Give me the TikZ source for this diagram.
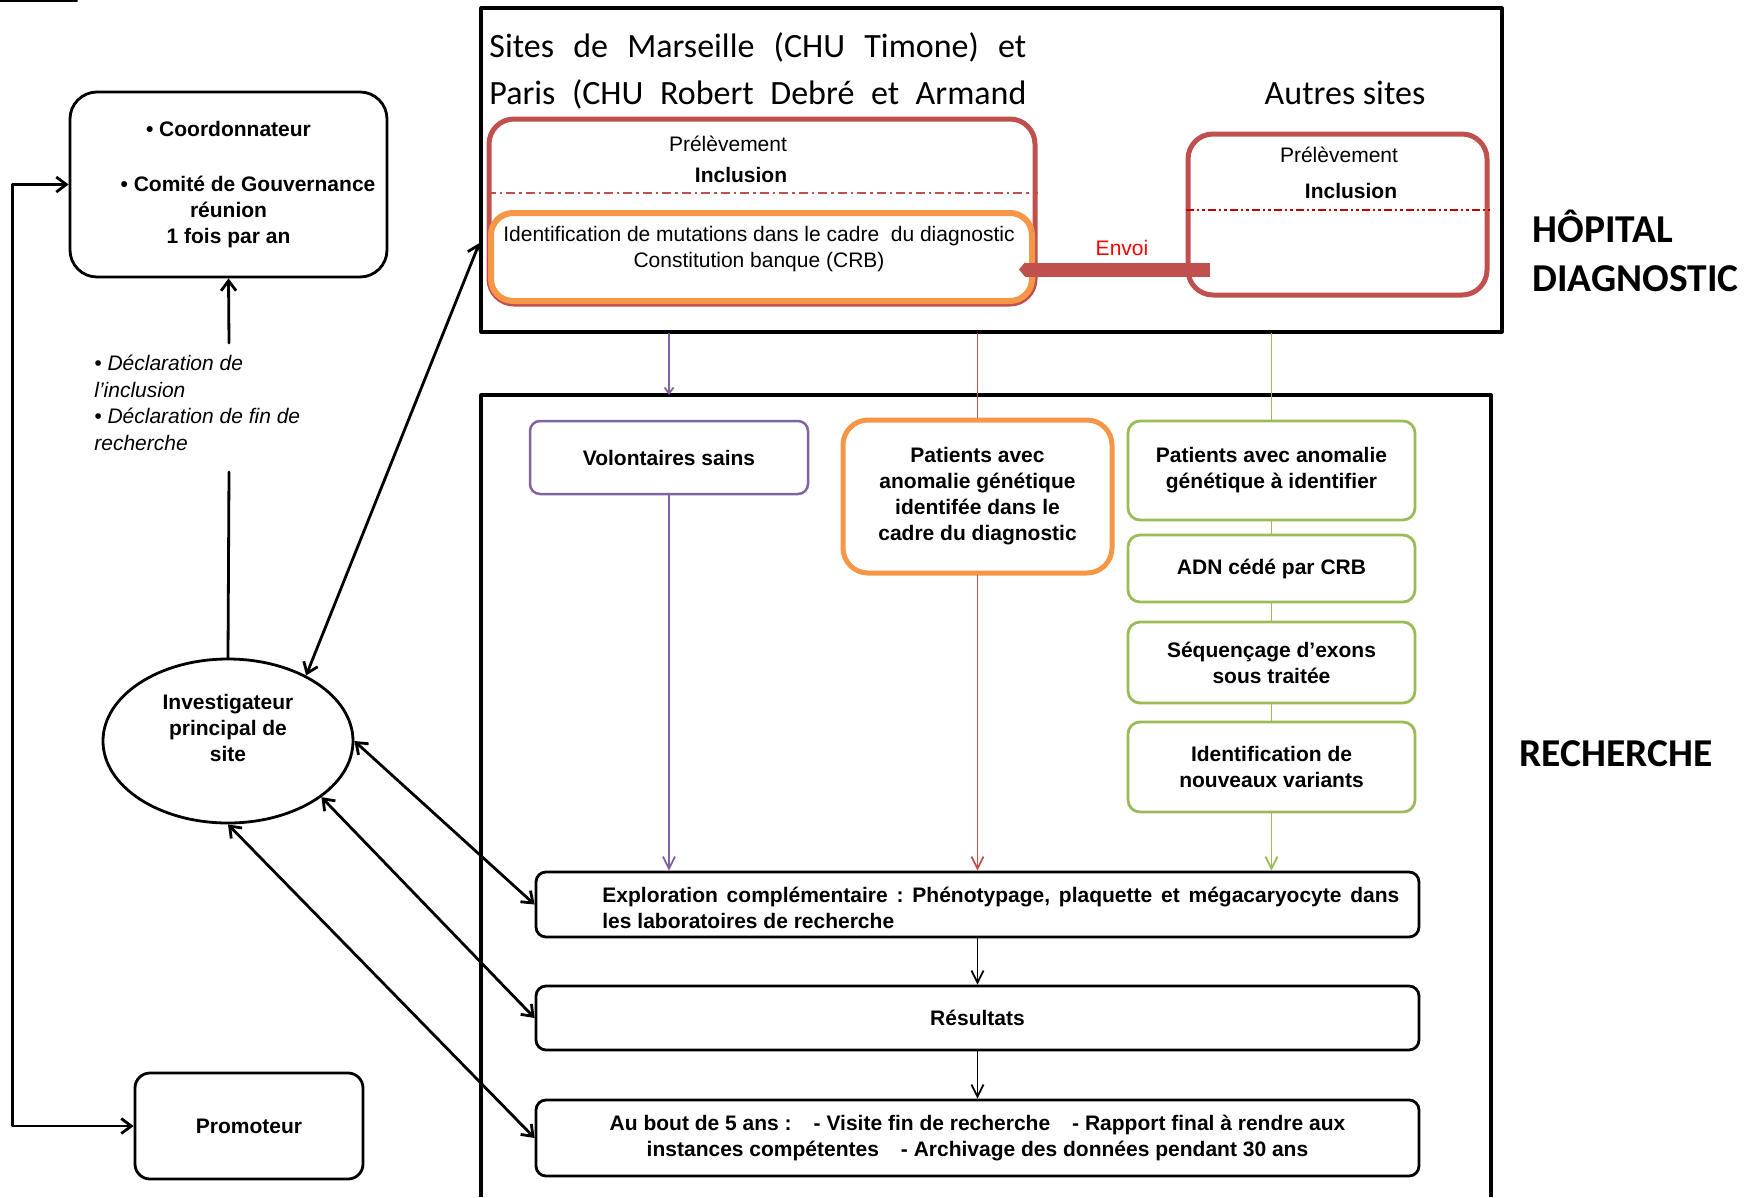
\documentclass[tikz,border=0pt]{standalone}
\usepackage{fontspec}
\setmainfont{Liberation Sans}
\newfontfamily\calibri{Carlito}
\usetikzlibrary{arrows.meta,shapes.geometric}
\frenchspacing

\definecolor{rougeB}{HTML}{C0504D}
\definecolor{rougeF}{HTML}{C00000}
\definecolor{orangeB}{HTML}{F79646}
\definecolor{violetB}{HTML}{8064A2}
\definecolor{vertB}{HTML}{9BBB59}

\begin{document}
\begin{tikzpicture}[x=1pt, y=-1pt, line width=2.8pt, line cap=round, line join=round,
  txt/.style={inner sep=0pt, align=center, font=\fontsize{21}{26}\selectfont},
  gras/.style={inner sep=0pt, align=center, font=\bfseries\fontsize{21}{26}\selectfont},
  boite/.style={draw, gras, rounded corners=10pt},
  vert/.style={boite, draw=vertB, rounded corners=12pt, minimum width=287pt},
  calib/.style={inner sep=0pt, font=\calibri\fontsize{34}{47}\selectfont},
  titre/.style={inner sep=0pt, anchor=west, font=\calibri\bfseries\fontsize{39.5}{48}\selectfont},
  fleche/.style={-{Straight Barb[length=10pt,width=15pt]}},
  dfleche/.style={{Straight Barb[length=10pt,width=15pt]}-{Straight Barb[length=10pt,width=15pt]}},
  fine/.style={line width=1.8pt, -{Straight Barb[length=12pt,width=12pt]}}]

  %% ════ colonne de gauche ════
  \draw[line width=2pt] (0,1) -- (77,1);
  \node[boite, rounded corners=27pt, minimum width=317pt, minimum height=185pt] (coord) at (228.5,184.5)
    {• Coordonnateur\\[29pt]\hspace*{39pt}• Comité de Gouvernance\\réunion\\1 fois par an};
  \node[txt, align=left, anchor=west, font=\itshape\fontsize{21}{26.7}\selectfont] (decl) at (93,403)
    {• Déclaration de\\l’inclusion\\• Déclaration de fin de\\recherche};
  \node[draw, ellipse, gras, minimum width=250pt, minimum height=164pt] (inv) at (228,741)
    {Investigateur\\principal de\\site\\\mbox{}};
  \node[boite, rounded corners=15pt, minimum width=228pt, minimum height=106pt] (promo) at (249,1126) {Promoteur};

  \coordinate (declA) at (229,343);   % la ligne s'arrête au texte
  \coordinate (declB) at (229,472);
  \draw[fleche] (declA) -- (coord.south);
  \draw (declB) -- (inv.north);
  \draw[dfleche] (coord.west) -- ++(-56,0) |- (promo.west);

  %% ════ HÔPITAL DIAGNOSTIC ════
  \node[draw, line width=3.2pt, inner sep=0pt, minimum width=1021pt, minimum height=324pt] (hop) at (991.5,170) {};
  \node[calib, anchor=west, align=left] (sites) at (488,70.5)
    {\makebox[537pt][s]{Sites de Marseille (CHU Timone) et}\\\makebox[537pt][s]{Paris (CHU Robert Debré et Armand}};
  \node[calib] (autres) at (1345,93) {Autres sites};

  \node[draw=rougeB, line width=5pt, rounded corners=25pt, minimum width=546pt, minimum height=185pt] (mars) at (762,211.5) {};
  \node[txt] (mars-p) at (728,144) {Prélèvement};
  \node[gras] (mars-i) at (741,175) {Inclusion};
  \draw[rougeB, line width=2pt, line cap=butt, dash pattern=on 9pt off 4pt on 2.5pt off 4pt]
    (mars.west |- 0,193) -- (mars.east |- 0,193);
  \node[draw=orangeB, line width=6pt, rounded corners=22pt, minimum width=541pt, minimum height=88pt] (ident) at (761.5,257) {};
  \node[txt] (ident-t) at (759,249) {Identification de mutations dans le cadre\ \ du diagnostic\\Constitution banque (CRB)};

  \node[draw=rougeB, line width=5pt, rounded corners=25pt, minimum width=299pt, minimum height=161pt] (aut) at (1337.5,214.5) {};
  \node[txt] (aut-p) at (1339,155) {Prélèvement};
  \node[gras] (aut-i) at (1351,191) {Inclusion};
  \draw[rougeF, line width=2.5pt, line cap=butt, dash pattern=on 8pt off 3pt on 2.5pt off 3pt on 2.5pt off 3pt]
    (aut.west |- 0,210) -- (aut.east |- 0,210);

  \coordinate (envoi) at (1210,269.5);
  \draw[rougeB, line width=14pt, line cap=butt, -{Triangle[length=6pt,width=14pt]}]
    (envoi) -- ([xshift=-16pt]ident.east |- envoi);
  \node[txt, text=red] (envoi-t) at (1122,248) {Envoi};

  \node[titre] (hopital) at (1531,226) {HÔPITAL};
  \node[titre] (diag) at (1531,279) {DIAGNOSTIC};

  %% ════ RECHERCHE ════
  \draw[line width=3.2pt, line cap=butt] (481,1197) |- (1491,395) -- (1491,1197);
  \coordinate (rech) at (669,395);
  \node[titre] (recherche) at (1518,754) {RECHERCHE};

  \node[boite, draw=violetB, line width=2.5pt, minimum width=278pt, minimum height=73pt] (vol) at (669,457.5) {Volontaires sains};
  \node[boite, draw=orangeB, line width=5pt, rounded corners=25pt, minimum width=269pt, minimum height=153pt] (pat) at (977.5,496.5)
    {Patients avec\\anomalie génétique\\identifée dans le\\cadre du diagnostic};
  \node[vert, minimum height=99pt] (anom) at (1271.5,470.5) {Patients avec anomalie\\génétique à identifier};
  \node[vert, minimum height=67pt] (adn) at (1271.5,568.5) {ADN cédé par CRB};
  \node[vert, minimum height=81pt] (seq) at (1271.5,662.5) {Séquençage d’exons\\sous traitée};
  \node[vert, minimum height=90pt] (var) at (1271.5,767) {Identification de\\nouveaux variants};

  \node[boite, minimum width=883pt, minimum height=65pt] (expl) at (977.5,904.5) {};
  \node[gras, align=left, anchor=west] (expl-t) at (601,908)
    {\makebox[797pt][s]{Exploration complémentaire : Phénotypage, plaquette et mégacaryocyte dans}\\les laboratoires de recherche};
  \node[boite, minimum width=883pt, minimum height=64pt] (res) at (977.5,1018) {Résultats};
  \node[boite, minimum width=883pt, minimum height=76pt] (fin) at (977.5,1138)
    {Au bout de 5 ans :\hspace{22pt}- Visite fin de recherche\hspace{22pt}- Rapport final à rendre aux\\instances compétentes\hspace{22pt}- Archivage des données pendant 30 ans};

  %% ════ liaisons ════
  \draw[violetB, line width=1.8pt, -{Straight Barb[length=6pt,width=9pt]}] (vol |- hop.south) -- (rech);
  \draw[fine, violetB] (vol.south) -- (vol.south |- expl.north);
  \draw[rougeB, line width=1.8pt] (pat.north |- hop.south) -- (pat.north);
  \draw[fine, rougeB] (pat.south) -- (pat.south |- expl.north);
  \draw[vertB, line width=1.8pt] (anom.north |- hop.south) -- (anom.north);
  \foreach \a/\b in {anom/adn, adn/seq, seq/var}
    \draw[vertB, line width=1.8pt] (\a.south) -- (\b.north);
  \draw[fine, vertB] (var.south) -- (var.south |- expl.north);
  \draw[fine] (expl.south) -- (res.north);
  \draw[fine] (res.south) -- (fin.north);

  \draw[dfleche] (inv.40) -- (hop.west |- 0,243);
  \draw[dfleche] (inv.east) -- (expl.west);
  \draw[dfleche] (inv.-31) -- (res.west);
  \draw[dfleche] (inv.south) -- (fin.west);

  \pgfresetboundingbox
  \path[use as bounding box] (0,0) rectangle (1751,1197);
\end{tikzpicture}
\end{document}
